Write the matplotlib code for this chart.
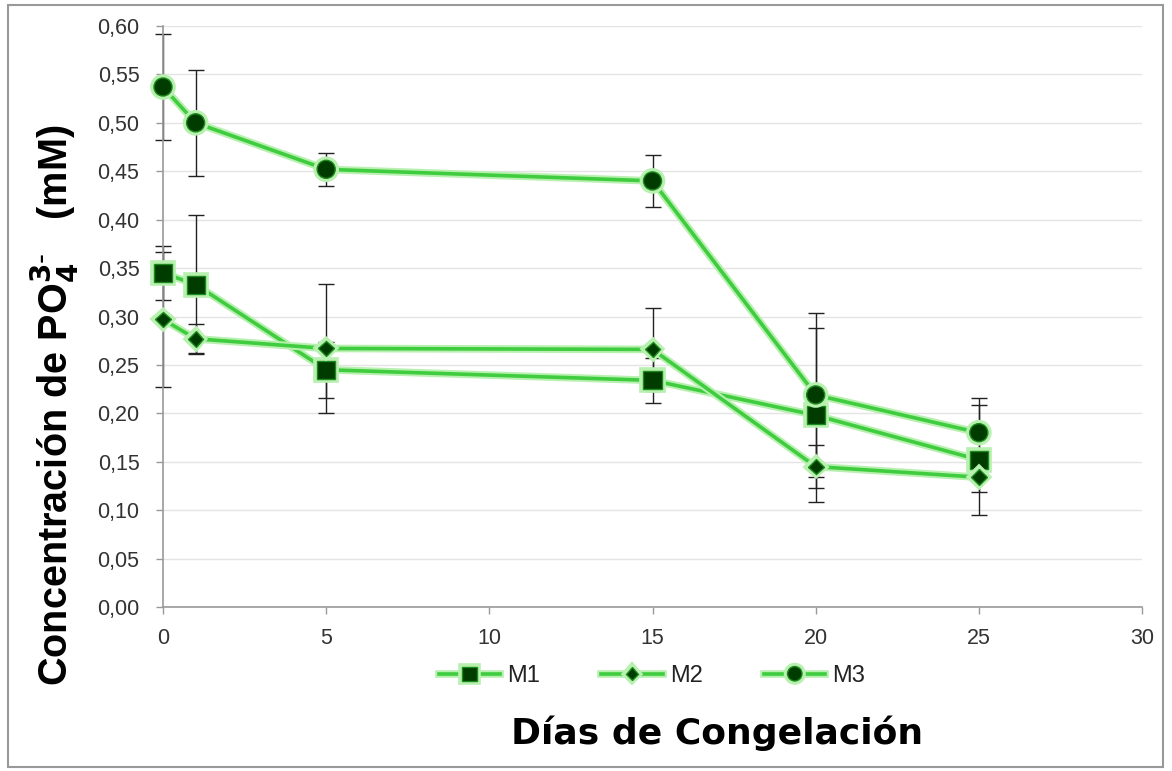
import matplotlib.pyplot as plt
import matplotlib.patheffects as pe
from matplotlib.patches import Rectangle
from matplotlib.ticker import FuncFormatter

dias = [0, 1, 5, 15, 20, 25]

m1 = [0.345, 0.333, 0.245, 0.234, 0.198, 0.152]
m1_err = [0.028, 0.072, 0.029, 0.023, 0.090, 0.057]

m2 = [0.297, 0.277, 0.267, 0.266, 0.145, 0.134]
m2_err = [0.070, 0.015, 0.067, 0.043, 0.022, 0.015]

m3 = [0.537, 0.500, 0.452, 0.440, 0.219, 0.180]
m3_err = [0.055, 0.055, 0.017, 0.027, 0.085, 0.036]

series = [("M1", m1, m1_err, "s", 13), ("M2", m2, m2_err, "D", 8), ("M3", m3, m3_err, "o", 13)]

plt.rcParams['font.family'] = ['Liberation Sans', 'DejaVu Sans']
plt.rcParams['mathtext.default'] = 'bf'

fig = plt.figure(figsize=(11.72, 7.71), dpi=100)
ax = fig.add_axes([163 / 1172, 1 - 607 / 771, (1142 - 163) / 1172, (607 - 26) / 771])

green = "#3fcc3f"
dark = "#003c00"
glow = [pe.Stroke(linewidth=5.5, foreground="#b8f0b0"), pe.Normal()]

for name, y, err, mk, ms in series:
    eb = ax.errorbar(dias, y, yerr=err, fmt="none", ecolor="#222222", elinewidth=1,
                     capsize=6, capthick=1, zorder=2)
    for art in eb.lines[1] + eb.lines[2]:
        art.set_clip_on(False)
    ax.plot(dias, y, color=green, lw=2.6, marker=mk, markersize=ms,
            markerfacecolor=dark, markeredgecolor="#1a8a1a", markeredgewidth=1,
            label=name, zorder=3, path_effects=glow, clip_on=False)

ax.set_xlim(0, 30)
ax.set_ylim(0, 0.6)
ax.set_xticks(range(0, 31, 5))
ax.set_yticks([i * 0.05 for i in range(13)])
ax.yaxis.set_major_formatter(FuncFormatter(lambda v, p: f"{v:.2f}".replace(".", ",")))
ax.grid(axis="y", color="#e4e4e4", lw=1)
ax.set_axisbelow(True)
for s in ["top", "right"]:
    ax.spines[s].set_visible(False)
for s in ["left", "bottom"]:
    ax.spines[s].set_color("#999999")
    ax.spines[s].set_linewidth(1.2)
ax.tick_params(axis="both", labelsize=15.5, colors="#999999", labelcolor="#333333", length=5, width=1)
ax.tick_params(axis="y", pad=12)
ax.tick_params(axis="x", pad=10)

fig.legend(loc="center", bbox_to_anchor=(652 / 1172, 1 - 676 / 771), ncol=3, frameon=False,
           fontsize=17, columnspacing=2.6, handlelength=2.6, handletextpad=0.3,
           markerscale=0.8, labelcolor="#222222")

fig.text(717 / 1172, 1 - 733 / 771, "Días de Congelación", ha="center", va="center",
         fontsize=26, fontweight="bold", family="DejaVu Sans")
fig.text(55 / 1172, 1 - 405 / 771, "Concentración de PO$_4^{3\\text{-}}$   (mM)", ha="center",
         va="center", rotation=90, fontsize=28.5, fontweight="bold")

fig.patches.append(Rectangle((8 / 1172, 4 / 771), 1155 / 1172, 762 / 771, transform=fig.transFigure,
                             fill=False, edgecolor="#999999", lw=1.5))

fig.savefig("out.png", dpi=100)
